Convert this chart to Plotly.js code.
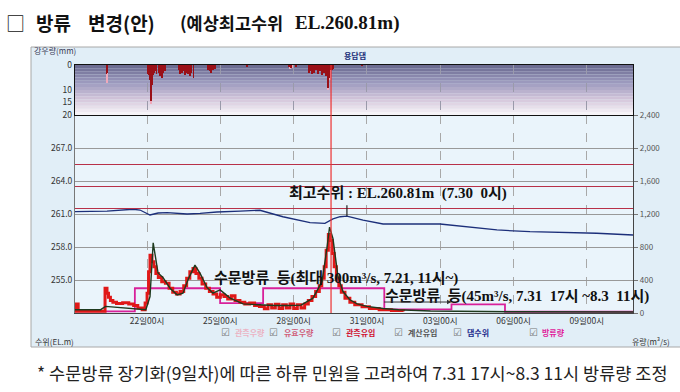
<!DOCTYPE html>
<html><head><meta charset="utf-8">
<script src="https://cdn.plot.ly/plotly-3.0.1.min.js"></script>
<style>html,body{margin:0;padding:0;background:#fff;}#chart{width:680px;height:392px;}</style>
</head><body><div id="chart"></div>
<script>
// ---------- data (x = day of July; 32 = Aug 1) ----------
const tickDays = [22, 25, 28, 31, 34, 37, 40];
const tickLabels = ['22일00시','25일00시','28일00시','31일00시','03일00시','06일00시','09일00시'];
const levelTicks = [255, 258, 261, 264, 267];
const levelTickText = ['255.0','258.0','261.0','264.0','267.0'];
const flowTicks = [0, 400, 800, 1200, 1600, 2000, 2400];
const rainTicks = [0, 10, 15, 20];
const limitLevels = [265.5, 263.5, 261.5];
const nowDay = 29.53;
const peakDay = 30.18, peakLevel = 260.81, peakPointerTop = 261.8;

const rainEffDays = [20.34,20.38,22.04,22.08,22.12,22.16,22.20,22.24,22.28,22.33,22.38,22.47,22.52,22.57,22.62,22.67,22.72,
  23.30,23.35,23.42,23.50,23.56,23.62,23.68,23.76,23.82,23.90,24.48,24.55,24.62,24.70,24.78,26.10,27.80,27.88,28.10,
  28.62,28.68,28.75,28.82,28.90,29.00,29.08,29.17,29.25,29.32,29.40,29.46,29.52,29.58,29.62,30.80];
const rainEff = [3.5,3.0,3.5,4.0,6.0,14.5,8.0,4.0,3.0,2.5,3.5,3.0,4.5,3.5,5.0,3.0,2.5,
  2.0,3.5,3.0,2.5,4.0,3.0,3.5,4.5,3.0,5.0,2.0,2.5,3.0,2.0,1.5,0.6,0.8,1.0,0.8,
  3.0,2.5,3.5,3.0,2.0,3.5,2.5,4.0,3.0,4.5,9.2,5.0,2.0,2.0,1.5,0.5];
const rainObsDays = [20.36, 22.16, 27.84, 27.92, 29.40, 29.48];
const rainObs = [7.0, 15.5, 1.5, 1.3, 10.0, 6.0];

const levelDays = [19.05,20.36,21.43,21.71,22.12,22.45,22.82,23.64,24.17,24.86,25.81,26.62,27.56,28.67,29.28,29.61,29.90,30.18,30.84,31.66,33.99,36.32,37.67,40.41,41.89];
const levelVals = [261.21,261.27,261.43,261.36,260.91,261.09,261.12,261.00,261.05,261.18,261.27,261.34,260.75,260.21,260.15,260.55,260.75,260.81,260.45,260.09,260.09,259.55,259.39,259.25,259.09];

const inflowCalcDays = [19.05,20.10,20.30,20.50,21.00,21.60,21.95,22.12,22.25,22.45,22.65,22.94,23.23,23.47,23.70,23.96,24.17,24.45,24.70,24.99,25.40,25.93,26.62,27.20,27.80,28.30,28.79,29.16,29.36,29.47,29.61,29.81,30.02,30.30,30.60,31.00,31.66,32.30,33.60,35.00,37.00,41.89];
const inflowCalc = [40,40,80,75,70,50,40,200,850,485,430,300,220,240,420,580,480,310,240,280,180,110,95,90,90,95,180,380,780,1040,900,450,260,160,110,80,55,40,25,20,15,12];

const inflowObsDays = [19.05,19.10,19.18,20.28,20.36,20.42,20.50,20.60,20.75,21.00,21.25,21.45,21.62,21.80,21.92,22.00,22.06,22.12,22.20,22.28,22.36,22.46,22.60,22.75,22.90,23.05,23.20,23.35,23.50,23.62,23.75,23.88,24.00,24.12,24.25,24.40,24.55,24.70,24.85,25.00,25.15,25.30,25.45,25.60,25.80,26.00,26.20,26.40,26.60,26.80,26.95,27.10,27.25,27.40,27.55,27.70,27.85,28.00,28.15,28.30,28.45,28.60,28.75,28.90,29.05,29.15,29.25,29.33,29.42,29.50,29.58,29.66,29.75,29.85,29.95,30.10,30.30,30.50,30.80,31.10,31.50,32.00,32.50];
const inflowObs = [20,110,20,300,240,190,150,130,115,125,110,90,60,40,120,240,500,700,620,560,480,430,380,360,300,250,230,260,330,420,500,540,480,420,350,300,260,230,190,220,200,170,210,150,130,110,120,90,80,50,100,60,105,55,100,60,110,55,100,60,110,150,200,260,330,420,560,760,950,880,720,560,420,330,250,180,130,100,75,55,40,30,20];

const outflowDays = [19.05, 21.50, 24.99, 26.75, 31.71, 34.46, 36.65, 41.89];
const outflow = [20, 300, 120, 300, 45, 105, 15, 15];

const legendLabels = ['관측우량','유효우량','관측유입','계산유입','댐수위','방류량'];
const legendColors = ['#ebb3c3','#d0607a','#d01030','#555555','#1c2a8c','#e0209a'];

// ---------- layout helpers ----------
const W = 680, H = 392;
const px = x => x / W, py = y => 1 - y / H;
const xDom = [px(75), px(633)];
const yMain = [py(313), py(115)];
const yRain = [py(115), py(65)];
const xRange = [19.05, 41.89];

const traces = [
  {type:'bar', x: rainObsDays, y: rainObs, xaxis:'x2', yaxis:'y3', width:0.08, marker:{color:'#f0a9bb'}, hoverinfo:'skip'},
  {type:'bar', x: rainEffDays, y: rainEff, xaxis:'x2', yaxis:'y3', width:0.07, marker:{color:'#9a1018'}, hoverinfo:'skip'},
  {type:'scatter', mode:'lines', x: outflowDays, y: outflow, xaxis:'x', yaxis:'y2', line:{shape:'hv', color:'#d8209a', width:1.8}},
  {type:'scatter', mode:'lines', x: inflowObsDays, y: inflowObs, xaxis:'x', yaxis:'y2', line:{shape:'hv', color:'#e01818', width:3}},
  {type:'scatter', mode:'lines', x: inflowCalcDays, y: inflowCalc, xaxis:'x', yaxis:'y2', line:{color:'#1e3a1e', width:1.4}},
  {type:'scatter', mode:'lines', x: levelDays, y: levelVals, xaxis:'x', yaxis:'y', line:{color:'#1c2f7a', width:1.3}}
];

const shapes = [];
shapes.push({type:'rect', xref:'paper', yref:'paper', x0:px(31), x1:1.01, y0:py(347), y1:py(47), fillcolor:'#e1eef7', line:{color:'#a8a8a8', width:1}, layer:'below'});
shapes.push({type:'rect', xref:'paper', yref:'paper', x0:xDom[0], x1:xDom[1], y0:yMain[0], y1:yMain[1], fillcolor:'#eaf4fb', line:{width:0}, layer:'below'});
const stops = [[0,[104,104,142]],[0.35,[156,154,190]],[0.7,[214,200,220]],[1,[250,248,250]]];
function col(t){ for(let i=0;i<stops.length-1;i++){ const a=stops[i], b=stops[i+1]; if(t<=b[0]){ const f=(t-a[0])/(b[0]-a[0]); return 'rgb('+a[1].map((v,k)=>Math.round(v+(b[1][k]-v)*f)).join(',')+')'; } } return 'rgb(250,248,250)'; }
const nb = 16;
for (let i=0;i<nb;i++){
  const t0=i/nb, t1=(i+1)/nb;
  shapes.push({type:'rect', xref:'paper', yref:'paper', x0:xDom[0], x1:xDom[1], y0:yRain[1]-(yRain[1]-yRain[0])*t1, y1:yRain[1]-(yRain[1]-yRain[0])*t0, fillcolor:col((t0+t1)/2), line:{width:0}, layer:'below'});
}
limitLevels.forEach(v => shapes.push({type:'line', xref:'x domain', yref:'y', x0:0, x1:1, y0:v, y1:v, line:{color:'#b83048', width:1.2}}));
shapes.push({type:'line', xref:'x', yref:'paper', x0:nowDay, x1:nowDay, y0:yMain[0], y1:yRain[1], line:{color:'#ee3030', width:1.2}});
shapes.push({type:'line', xref:'x', yref:'y', x0:peakDay, x1:peakDay, y0:peakLevel, y1:peakPointerTop, line:{color:'#222', width:1.2}});

const kr = 'Noto Sans CJK KR, sans-serif';
const serif = 'Liberation Serif, Noto Sans CJK KR, serif';
const ann = [];
function T(text, x, y, opts){ ann.push(Object.assign({text, xref:'paper', yref:'paper', x:px(x), y:py(y), xanchor:'left', yanchor:'middle', showarrow:false, font:{family:kr, size:9, color:'#333'}}, opts||{})); }

T('□', 4, 22, {font:{family:kr, size:19, color:'#111'}});
T('<b>방류</b>', 34, 22, {font:{family:kr, size:19, color:'#111'}});
T('<b>변경(안)</b>', 86, 22, {font:{family:kr, size:19, color:'#111'}});
T('<b>(예상최고수위</b>', 178, 23, {font:{family:kr, size:17.5, color:'#111'}});
T('<b>EL.260.81m)</b>', 293, 23, {font:{family:'Liberation Serif, serif', size:19, color:'#111'}});
T('강우량(mm)', 32, 51, {font:{family:kr, size:8, color:'#3a3a55'}});
T('<b>용담댐</b>', 355, 56, {xanchor:'center', font:{family:kr, size:8, color:'#22307a'}});
T('<b>최고수위 : EL.260.81m  (7.30  0시)</b>', 287, 193, {font:{family:serif, size:15, color:'#111'}});
T('<b>수문방류  등(최대 300m³/s, 7.21, 11시~)</b>', 212, 278, {font:{family:serif, size:15, color:'#111'}});
T('<b>수문방류  등(45m³/s, 7.31  17시 ~8.3  11시)</b>', 383, 296, {font:{family:serif, size:15, color:'#111'}});
T('수위(EL.m)', 33, 341, {font:{family:kr, size:8, color:'#333'}});
T('유량(m³/s)', 630, 341, {font:{family:kr, size:8, color:'#333'}});
T('* 수문방류 장기화(9일차)에 따른 하류 민원을 고려하여 7.31 17시~8.3 11시 방류량 조정', 35, 372, {font:{family:kr, size:17.5, color:'#222'}});

const boxX = [219, 267, 330, 392, 451, 527];
const labX = [233, 282, 344, 406, 465, 540];
legendLabels.forEach((l,i) => {
  T('☑', boxX[i], 332, {font:{family:'DejaVu Sans', size:10, color:'#777'}});
  T('<b>'+l+'</b>', labX[i], 332, {font:{family:kr, size:8, color:legendColors[i]}});
});
ann.push({text:'', xref:'x', yref:'y2', x:34.46, y:133, ax:-69, ay:0, showarrow:true, arrowhead:2, arrowsize:0.9, arrowwidth:1, arrowcolor:'#333'});

const tickFont = {family:kr, size:8.5, color:'#333'};
const layout = {
  width:W, height:H, margin:{l:0,r:0,t:0,b:0},
  paper_bgcolor:'#ffffff', plot_bgcolor:'rgba(0,0,0,0)',
  showlegend:false, barmode:'overlay', bargap:0,
  xaxis:{domain:xDom, anchor:'y', range:xRange, tickmode:'array', tickvals:tickDays, ticktext:tickLabels, tickfont:tickFont,
    showgrid:true, gridcolor:'#a8a8a8', griddash:'dash', gridwidth:1, showline:true, linecolor:'#444', linewidth:1.2, mirror:false, ticks:'', zeroline:false},
  xaxis2:{domain:xDom, anchor:'y3', matches:'x', range:xRange, tickvals:tickDays, showticklabels:false,
    showgrid:true, gridcolor:'#9a9aaa', griddash:'dash', showline:true, linecolor:'#111', linewidth:1.3, mirror:true, ticks:'', zeroline:false},
  yaxis:{domain:yMain, anchor:'x', range:[252,270], tickmode:'array', tickvals:levelTicks, ticktext:levelTickText, tickfont:tickFont,
    showgrid:true, gridcolor:'#999999', gridwidth:1, showline:true, linecolor:'#777', ticks:'', zeroline:false},
  yaxis2:{overlaying:'y', side:'right', anchor:'x', range:[0,2400], tickmode:'array', tickvals:flowTicks, tickformat:',d', tickfont:{family:kr,size:8,color:'#555'},
    showgrid:false, showline:true, linecolor:'#444', linewidth:1.2, ticks:'outside', ticklen:4, tickcolor:'#777', zeroline:false},
  yaxis3:{domain:yRain, anchor:'x2', range:[20,0], tickmode:'array', tickvals:rainTicks, tickfont:tickFont,
    showgrid:false, showline:true, linecolor:'#111', linewidth:1.3, mirror:true, ticks:'', zeroline:false},
  shapes, annotations:ann
};
Plotly.newPlot('chart', traces, layout, {displayModeBar:false, staticPlot:true});
</script></body></html>
